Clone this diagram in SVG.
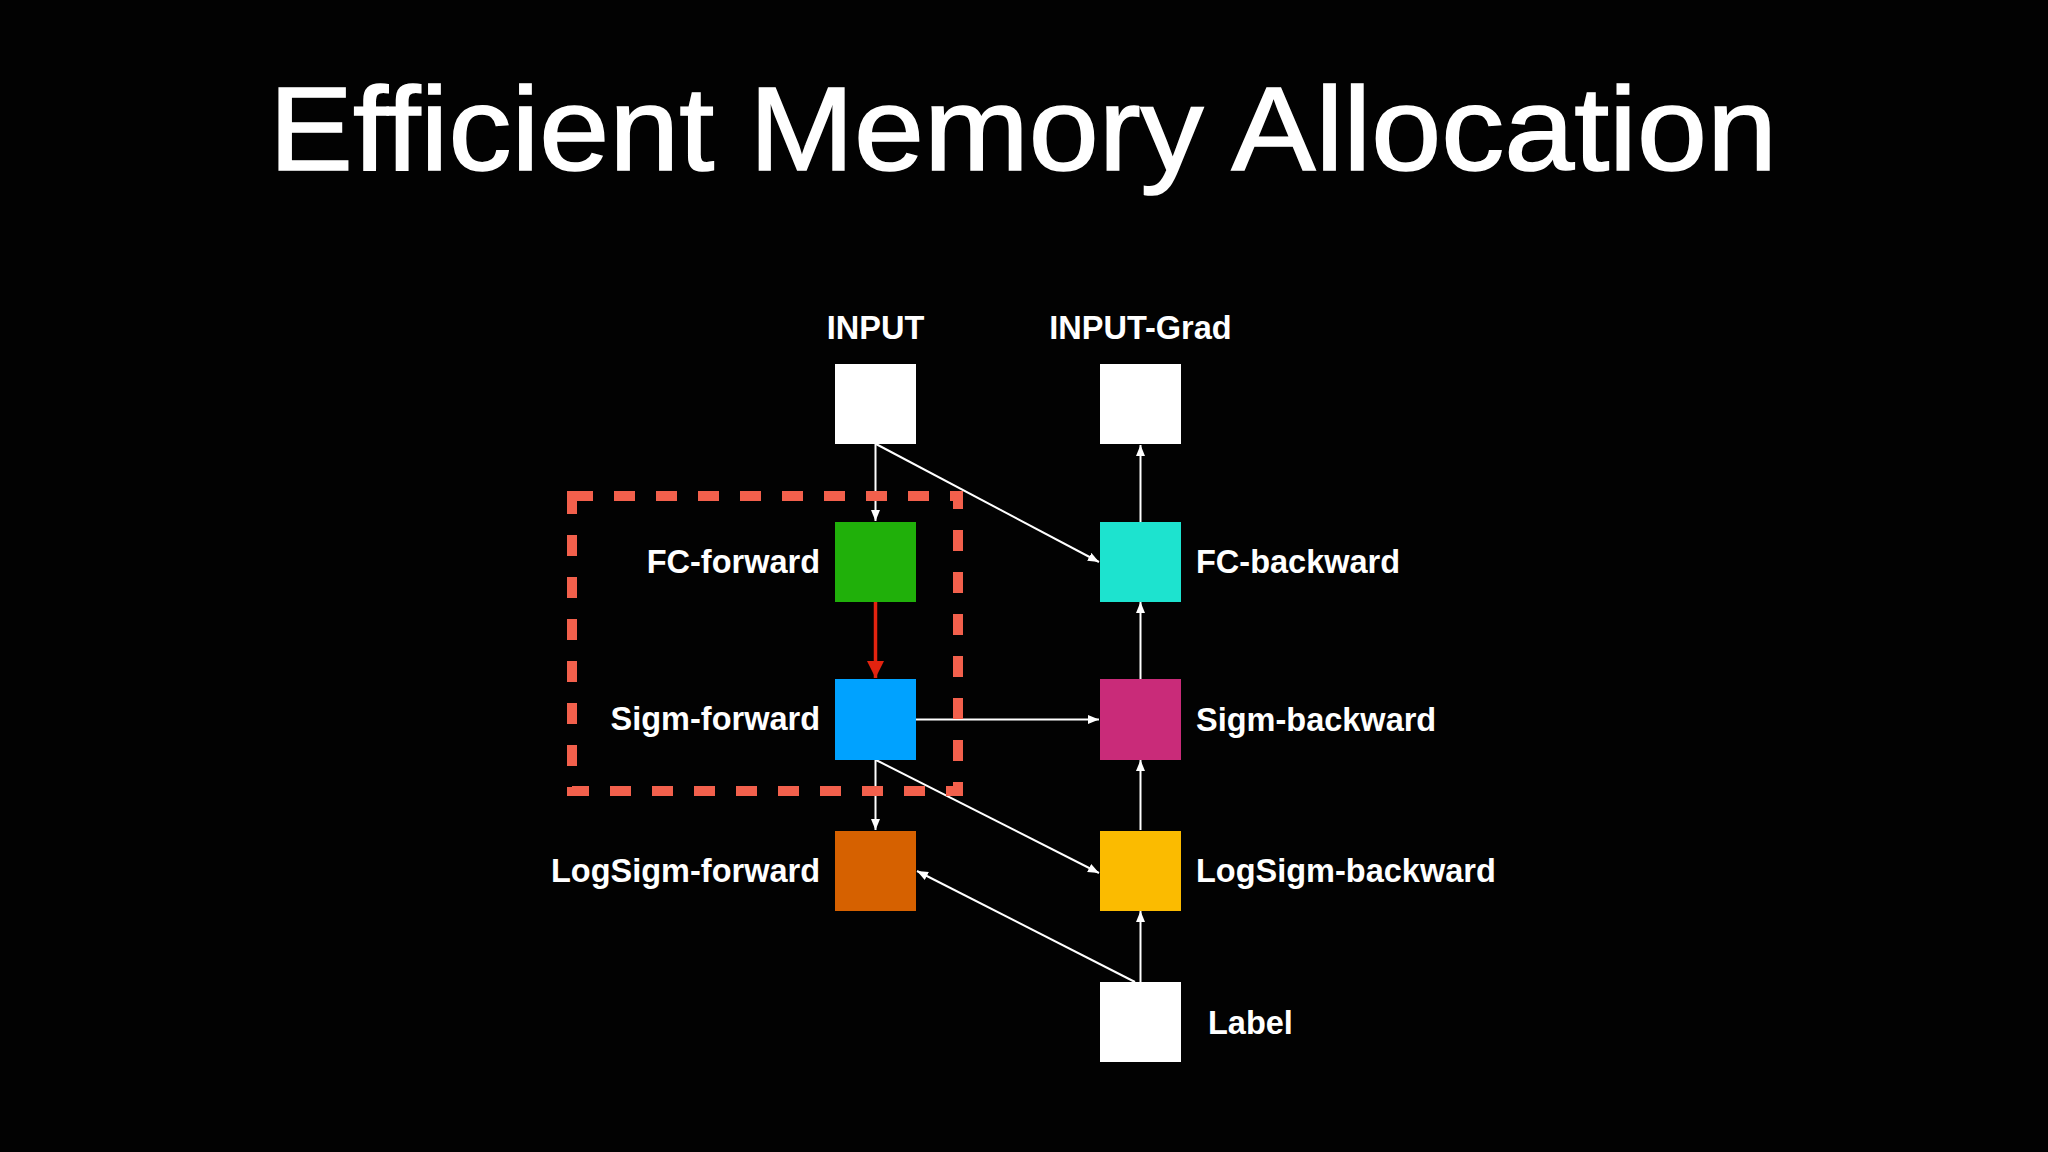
<svg xmlns="http://www.w3.org/2000/svg" width="2048" height="1152" viewBox="0 0 2048 1152">
  <style>
    .lbl { font-family: "Liberation Sans", Arial, Helvetica, sans-serif; font-weight: bold; font-size: 32.5px; fill: #ffffff; }
    .title { font-family: "Liberation Sans", Arial, Helvetica, sans-serif; font-size: 118px; fill: #ffffff; stroke: #ffffff; stroke-width: 1.6px; }
    .conn { stroke: #ffffff; stroke-width: 2; fill: none; marker-end: url(#arrW); }
    .connR { stroke: #e3230f; stroke-width: 3.5; fill: none; marker-end: url(#arrR); }
  </style>
  <defs>
    <marker id="arrW" markerUnits="userSpaceOnUse" markerWidth="12" markerHeight="10" refX="11" refY="4.5" orient="auto">
      <path d="M0,0 L11,4.5 L0,9 z" fill="#ffffff"/>
    </marker>
    <marker id="arrR" markerUnits="userSpaceOnUse" markerWidth="18" markerHeight="18" refX="17" refY="8.5" orient="auto">
      <path d="M0,0 L17,8.5 L0,17 z" fill="#e3230f"/>
    </marker>
  </defs>
  <rect x="0" y="0" width="2048" height="1152" fill="#020202"/>
  <text class="title" x="1023" y="170" text-anchor="middle" textLength="1508" lengthAdjust="spacingAndGlyphs">Efficient Memory Allocation</text>

  <g id="connectors">
    <path class="conn" d="M875.5,444 L875.5,521"/>
    <path class="conn" d="M876,444 L1099,562"/>
    <path class="connR" d="M875.5,602 L875.5,678"/>
    <path class="conn" d="M916,719.5 L1099,719.5"/>
    <path class="conn" d="M875.5,760 L875.5,830"/>
    <path class="conn" d="M876,760 L1099,873"/>
    <path class="conn" d="M1135,982 L917,871"/>
    <path class="conn" d="M1140.5,982 L1140.5,911"/>
    <path class="conn" d="M1140.5,830 L1140.5,760"/>
    <path class="conn" d="M1140.5,679 L1140.5,602"/>
    <path class="conn" d="M1140.5,522 L1140.5,445"/>
  </g>

  <g id="input">
    <rect x="835" y="364" width="81" height="80" fill="#ffffff"/>
    <text class="lbl" x="875.5" y="339" text-anchor="middle">INPUT</text>
  </g>
  <g id="input-grad">
    <rect x="1100" y="364" width="81" height="80" fill="#ffffff"/>
    <text class="lbl" x="1140.5" y="339" text-anchor="middle">INPUT-Grad</text>
  </g>
  <g id="fc-forward">
    <rect x="835" y="522" width="81" height="80" fill="#20b00a"/>
    <text class="lbl" x="820" y="573" text-anchor="end">FC-forward</text>
  </g>
  <g id="fc-backward">
    <rect x="1100" y="522" width="81" height="80" fill="#1de3cf"/>
    <text class="lbl" x="1196" y="573">FC-backward</text>
  </g>
  <g id="sigm-forward">
    <rect x="835" y="679" width="81" height="81" fill="#00a2ff"/>
    <text class="lbl" x="820" y="730" text-anchor="end">Sigm-forward</text>
  </g>
  <g id="sigm-backward">
    <rect x="1100" y="679" width="81" height="81" fill="#c92b79"/>
    <text class="lbl" x="1196" y="731">Sigm-backward</text>
  </g>
  <g id="logsigm-forward">
    <rect x="835" y="831" width="81" height="80" fill="#d66100"/>
    <text class="lbl" x="820" y="882" text-anchor="end">LogSigm-forward</text>
  </g>
  <g id="logsigm-backward">
    <rect x="1100" y="831" width="81" height="80" fill="#fbbb00"/>
    <text class="lbl" x="1196" y="882">LogSigm-backward</text>
  </g>
  <g id="label">
    <rect x="1100" y="982" width="81" height="80" fill="#ffffff"/>
    <text class="lbl" x="1208" y="1034">Label</text>
  </g>

  <g id="highlight">
    <rect x="572" y="496" width="386" height="295" fill="none" stroke="#f2604c" stroke-width="10" stroke-dasharray="21 21"/>
  </g>
</svg>
